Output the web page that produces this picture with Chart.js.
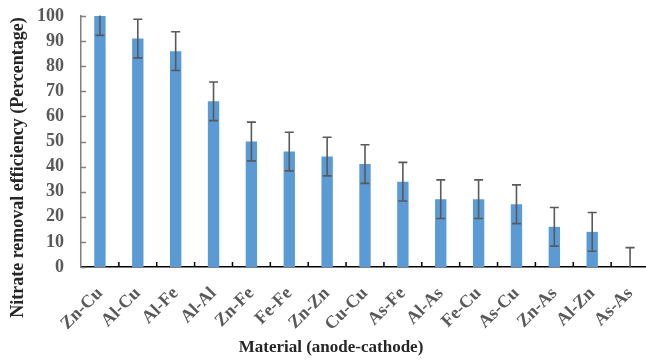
<!DOCTYPE html>
<html>
<head>
<meta charset="utf-8">
<script src="https://cdn.jsdelivr.net/npm/chart.js@4/dist/chart.umd.min.js"></script>
<style>
  html, body { margin: 0; padding: 0; overflow: hidden; background: #fff; }
  #wrap { width: 652px; height: 360px; }
</style>
</head>
<body>
<div id="wrap"><canvas id="c" width="652" height="360"></canvas></div>
<script>
const categories = ["Zn-Cu","Al-Cu","Al-Fe","Al-Al","Zn-Fe","Fe-Fe","Zn-Zn","Cu-Cu","As-Fe","Al-As","Fe-Cu","As-Cu","Zn-As","Al-Zn","As-As"];
const efficiency = [100, 91, 86, 66, 50, 46, 44, 41, 34, 27, 27, 25, 16, 14, 0];
const errors = [7.7, 7.7, 7.7, 7.7, 7.7, 7.7, 7.7, 7.7, 7.7, 7.7, 7.7, 7.7, 7.7, 7.7, 7.7];
const yTicks = [0, 10, 20, 30, 40, 50, 60, 70, 80, 90, 100];
const xTitle = "Material (anode-cathode)";
const yTitle = "Nitrate removal efficiency (Percentage)";

const SERIF = "'Liberation Serif', 'Times New Roman', serif";

const extras = {
  id: 'extras',
  afterDatasetsDraw(chart) {
    const ctx = chart.ctx;
    const xs = chart.scales.x, ys = chart.scales.y;
    const area = chart.chartArea;
    // error bars
    ctx.save();
    ctx.beginPath();
    ctx.rect(area.left, area.top - 0.5, area.right - area.left, area.bottom - area.top + 1);
    ctx.clip();
    ctx.strokeStyle = '#595959';
    ctx.lineWidth = 1.6;
    efficiency.forEach((v, i) => {
      const x = xs.getPixelForValue(i);
      const yTop = ys.getPixelForValue(v + errors[i]);
      const yBot = ys.getPixelForValue(Math.max(0, v - errors[i]));
      ctx.beginPath();
      ctx.moveTo(x, yTop); ctx.lineTo(x, yBot);
      ctx.moveTo(x - 4.5, yTop); ctx.lineTo(x + 4.5, yTop);
      if (v - errors[i] > 0) { ctx.moveTo(x - 4.5, yBot); ctx.lineTo(x + 4.5, yBot); }
      ctx.stroke();
    });
    ctx.restore();
    // inward ticks
    ctx.save();
    ctx.lineWidth = 1.5;
    ctx.strokeStyle = '#808080';
    yTicks.forEach(t => {
      const y = Math.round(ys.getPixelForValue(t)) + 0.5;
      ctx.beginPath(); ctx.moveTo(area.left, y); ctx.lineTo(area.left + 5, y); ctx.stroke();
    });
    ctx.strokeStyle = '#000';
    for (let i = 1; i < categories.length; i++) {
      const x = (xs.getPixelForValue(i - 1) + xs.getPixelForValue(i)) / 2;
      ctx.beginPath(); ctx.moveTo(x, area.bottom); ctx.lineTo(x, area.bottom - 5); ctx.stroke();
    }
    ctx.restore();
    // axis titles
    ctx.save();
    ctx.fillStyle = '#262626';
    ctx.textAlign = 'center';
    ctx.textBaseline = 'middle';
    ctx.font = "bold 17px " + SERIF;
    ctx.fillText(xTitle, 331, 348);
    ctx.font = "bold 18px " + SERIF;
    ctx.translate(18.5, 167.5);
    ctx.rotate(-Math.PI / 2);
    ctx.fillText(yTitle, 0, 0);
    ctx.restore();
  }
};

new Chart(document.getElementById('c'), {
  type: 'bar',
  data: {
    labels: categories,
    datasets: [{
      data: efficiency,
      backgroundColor: '#5B9BD5',
      borderWidth: 0,
      categoryPercentage: 1.0,
      barPercentage: 0.3
    }]
  },
  options: {
    responsive: false,
    animation: false,
    devicePixelRatio: 1,
    layout: { padding: { top: 16, right: 3, left: 0, bottom: 0 } },
    plugins: { legend: { display: false }, tooltip: { enabled: false } },
    scales: {
      x: {
        grid: { display: false, drawTicks: false },
        border: { display: true, color: '#000', width: 1.5 },
        ticks: {
          color: '#595959',
          font: { family: SERIF, size: 18, weight: 'bold' },
          maxRotation: 45, minRotation: 45,
          padding: 16,
          autoSkip: false
        },
        afterFit(s) { s.height = 93; s.paddingLeft = 0; s.paddingRight = 0; }
      },
      y: {
        min: 0, max: 100,
        afterBuildTicks(s) { s.ticks = yTicks.map(v => ({ value: v })); },
        grid: { display: false, drawTicks: false },
        border: { display: true, color: '#808080', width: 1.5 },
        ticks: {
          color: '#595959',
          font: { family: SERIF, size: 18, weight: 'bold' },
          padding: 17,
          autoSkip: false
        },
        afterFit(s) { s.width = 81; s.paddingTop = 0; s.paddingBottom = 0; }
      }
    }
  },
  plugins: [extras]
});
</script>
</body>
</html>
